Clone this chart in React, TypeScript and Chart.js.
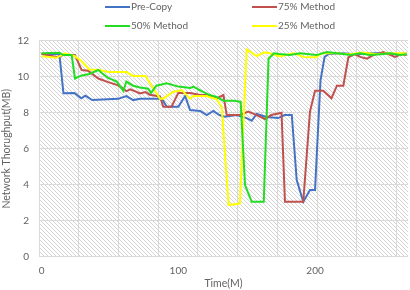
import React, { useEffect, useRef } from "react";
import { Chart, registerables } from "chart.js";
Chart.register(...registerables);

// ---- data ----
const seriesNames = ["Pre-Copy", "75% Method", "50% Method", "25% Method"];

const preCopyTime = [0, 13, 16, 24, 29, 32, 37, 56, 62, 67, 72, 88, 91.5, 100, 105, 108.6, 116, 120.8, 125.6, 130, 134, 142.7, 150, 153.7, 157.3, 164.6, 173, 177.8, 183, 186.6, 191.4, 196.3, 200, 204, 207, 210, 220, 230, 240, 250, 260, 267];
const preCopyVal = [11.26, 11.26, 9.08, 9.1, 8.8, 8.95, 8.7, 8.77, 8.92, 8.7, 8.78, 8.78, 8.33, 8.33, 8.93, 8.15, 8.1, 7.87, 8.1, 7.87, 7.78, 7.87, 7.7, 7.55, 7.93, 7.76, 7.7, 7.87, 7.87, 4.26, 3.05, 3.7, 3.7, 9.8, 11.1, 11.26, 11.3, 11.25, 11.3, 11.3, 11.25, 11.3];

const m75Time = [0, 11, 16, 24.4, 29.3, 34, 41.5, 48.7, 55, 58.5, 62, 65, 72, 76, 79, 86.6, 89, 95, 100, 108.7, 116, 122, 128, 133, 135.4, 145, 151.2, 157.3, 163.4, 168, 175.5, 178, 191.4, 196.3, 200, 206, 212, 216, 220.7, 224.4, 229, 233, 238, 242.6, 250, 253.6, 258.5, 263.4, 267];
const m75Val = [11.26, 11.1, 11.2, 11.2, 10.37, 10.33, 9.9, 9.7, 9.55, 9.4, 9.2, 9.3, 9.07, 9.15, 9.0, 8.9, 8.33, 8.33, 9.1, 9.1, 8.98, 8.98, 8.8, 8.98, 7.87, 7.87, 8.06, 7.87, 7.65, 7.87, 8.0, 3.05, 3.05, 8.06, 9.22, 9.22, 8.8, 9.5, 9.5, 11.08, 11.26, 11.1, 11.0, 11.2, 11.37, 11.25, 11.1, 11.26, 11.2];

const m50Time = [0, 13, 16, 22, 24.4, 29.3, 35, 41.5, 44, 48.7, 55, 59.8, 62, 67, 72, 78, 80, 84, 87, 91.5, 100, 108.7, 111, 117, 123, 128, 133, 141, 145.6, 148.8, 153.7, 162.5, 166, 170, 174, 181.6, 189, 201, 208.7, 216, 226, 233, 240, 248, 255, 262, 267];
const m50Val = [11.3, 11.33, 11.2, 11.2, 9.9, 10.07, 10.15, 10.37, 10.2, 9.93, 9.73, 9.2, 9.73, 9.5, 9.4, 9.33, 9.1, 9.5, 9.55, 9.63, 9.45, 9.37, 9.45, 9.2, 8.98, 8.88, 8.67, 8.67, 8.6, 3.98, 3.05, 3.05, 11.0, 11.3, 11.26, 11.2, 11.3, 11.2, 11.37, 11.3, 11.2, 11.3, 11.2, 11.25, 11.3, 11.2, 11.25];

const m25Time = [0, 11, 17, 24, 29.3, 35, 42.5, 48.7, 62, 67, 76, 80.5, 86.6, 89, 96, 102.5, 108.6, 111, 120.8, 128, 131.7, 136.8, 145, 150, 157.3, 163, 167, 174.4, 181.6, 185, 191.4, 201, 205, 215, 225, 235, 245, 255, 267];
const m25Val = [11.13, 11.05, 11.3, 11.15, 10.86, 10.4, 10.37, 10.26, 10.26, 10.04, 10.04, 9.5, 8.78, 8.78, 9.15, 9.26, 8.78, 8.93, 8.93, 8.75, 8.33, 2.87, 2.95, 11.52, 11.15, 11.35, 11.3, 11.13, 11.26, 11.3, 11.1, 11.08, 11.3, 11.3, 11.25, 11.35, 11.25, 11.3, 11.3];

const xLabelTicks = [0, 100, 200];
const yTicks = [0, 2, 4, 6, 8, 10, 12];

// ---- styles ----
const colors = ["#4472C4", "#C0504D", "#22DD22", "#FFFF00"];
const drawOrder = [3, 2, 0, 1];
const FONT = "Lato, 'Open Sans', sans-serif";
const TEXT = "#636363";
const GRID = "#d9d9d9";
const X_MIN = -1.9;
const X_MAX = 268;
const GRID_START = -1.9;
const GRID_STEP = 29.07;

function toPoints(t: number[], v: number[]) {
  return t.map((x, i) => ({ x, y: v[i] }));
}

let hatch: CanvasPattern | null = null;
function getHatch(ctx: CanvasRenderingContext2D) {
  if (hatch) return hatch;
  const c = document.createElement("canvas");
  c.width = 4;
  c.height = 4;
  const g = c.getContext("2d")!;
  g.fillStyle = "#ffffff";
  g.fillRect(0, 0, 4, 4);
  g.fillStyle = "#d4d4d4";
  for (let i = 0; i < 4; i++) g.fillRect(i, i, 1, 1);
  hatch = ctx.createPattern(c, "repeat");
  return hatch!;
}

const hatchPlugin = {
  id: "hatchBg",
  beforeDraw(chart: any) {
    const { ctx, chartArea: a } = chart;
    ctx.save();
    ctx.fillStyle = getHatch(ctx);
    ctx.fillRect(a.left, a.top, a.right - a.left, a.bottom - a.top);
    ctx.restore();
  },
};

const legendPlugin = {
  id: "gridLegend",
  afterDraw(chart: any) {
    const ctx = chart.ctx as CanvasRenderingContext2D;
    const colX = [105, 252];
    const rowY = [7, 26];
    ctx.save();
    chart.data.datasets.forEach((ds: any, i: number) => {
      const x = colX[i % 2];
      const y = rowY[Math.floor(i / 2)];
      ctx.strokeStyle = ds.borderColor;
      ctx.lineWidth = 2;
      ctx.beginPath();
      ctx.moveTo(x, y);
      ctx.lineTo(x + 25, y);
      ctx.stroke();
      ctx.fillStyle = TEXT;
      ctx.font = `10px ${FONT}`;
      ctx.textBaseline = "middle";
      ctx.textAlign = "left";
      ctx.fillText(ds.label, x + 26, y);
    });
    ctx.restore();
  },
};

export default function App() {
  const ref = useRef<HTMLCanvasElement>(null);
  useEffect(() => {
    if (!ref.current) return;
    const series = [
      toPoints(preCopyTime, preCopyVal),
      toPoints(m75Time, m75Val),
      toPoints(m50Time, m50Val),
      toPoints(m25Time, m25Val),
    ];
    const gridVals: number[] = [];
    for (let v = GRID_START; v <= X_MAX + 0.001; v += GRID_STEP) gridVals.push(v);
    const labelSet = new Set(xLabelTicks);
    const chart = new Chart(ref.current, {
      type: "line",
      data: {
        datasets: series.map((d, i) => ({
          label: seriesNames[i],
          data: d,
          borderColor: colors[i],
          backgroundColor: colors[i],
          borderWidth: 2,
          pointRadius: 0,
          tension: 0,
          fill: false,
          order: drawOrder[i],
        })),
      },
      options: {
        animation: false,
        responsive: false,
        devicePixelRatio: 1,
        layout: { padding: { top: 40.7, right: 2, left: 0, bottom: 0 } },
        plugins: { legend: { display: false }, tooltip: { enabled: false } },
        scales: {
          x: {
            type: "linear",
            min: X_MIN,
            max: X_MAX,
            afterBuildTicks: (s: any) => {
              const all = [...gridVals, ...xLabelTicks].sort((a, b) => a - b);
              s.ticks = all.map((v) => ({ value: v }));
            },
            afterFit: (s: any) => {
              s.height = 33.3;
            },
            grid: {
              color: (c: any) => (c.tick && labelSet.has(c.tick.value) ? "rgba(0,0,0,0)" : GRID),
              drawTicks: false,
              lineWidth: 1,
            },
            border: { display: false },
            ticks: {
              autoSkip: false,
              maxRotation: 0,
              padding: 8,
              color: TEXT,
              font: { family: FONT, size: 10 },
              callback: (v: any) => (labelSet.has(v) ? String(v) : ""),
            },
            title: {
              display: true,
              text: "Time(M)",
              color: TEXT,
              font: { family: FONT, size: 10.5 },
              padding: { top: 0, bottom: 0 },
            },
          },
          y: {
            min: 0,
            max: 12,
            afterBuildTicks: (s: any) => {
              s.ticks = yTicks.map((v) => ({ value: v }));
            },
            afterFit: (s: any) => {
              s.width = 39;
            },
            grid: { color: GRID, drawTicks: false, lineWidth: 1 },
            border: { display: true, color: GRID },
            ticks: {
              padding: 10,
              color: TEXT,
              font: { family: FONT, size: 10 },
            },
            title: {
              display: true,
              text: "Network Thorughput(MB)",
              color: TEXT,
              font: { family: FONT, size: 10.5 },
              padding: { top: 0, bottom: 0 },
            },
          },
        },
      },
      plugins: [hatchPlugin, legendPlugin],
    });
    return () => chart.destroy();
  }, []);
  return (
    <div style={{ position: "absolute", left: 0, top: 0, width: 410, height: 290, background: "#fff" }}>
      <canvas ref={ref} width={410} height={290} style={{ display: "block" }} />
    </div>
  );
}
